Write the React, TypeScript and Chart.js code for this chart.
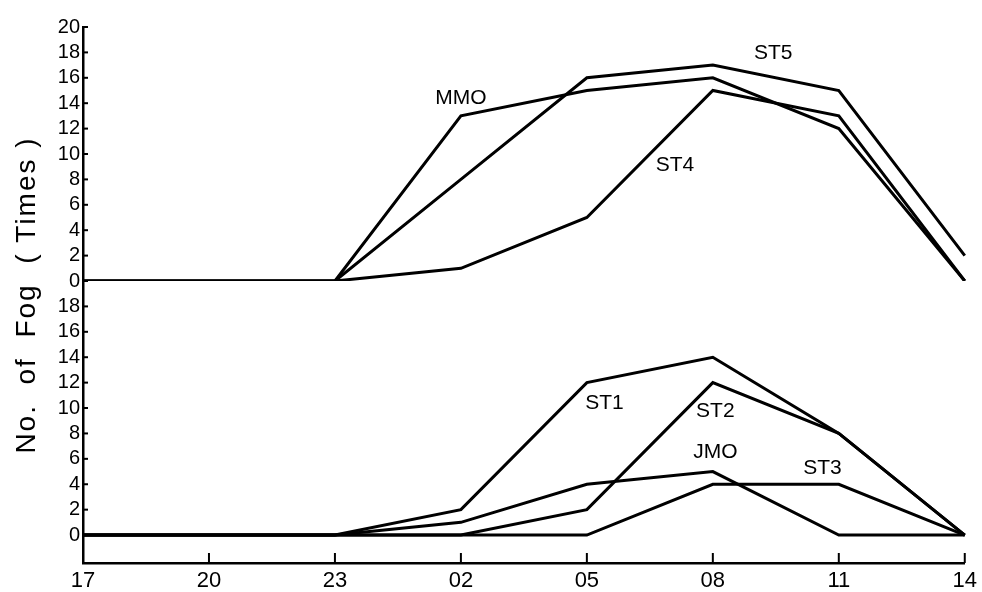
import React, { useEffect, useRef } from "react";
import { Chart, registerables } from "chart.js";

Chart.register(...registerables);

// ---- data ----
const hours = ["17", "20", "23", "02", "05", "08", "11", "14"];

// upper panel
const mmo = [0, 0, 0, 13, 15, 16, 12, 0];
const st5 = [0, 0, 0, 8, 16, 17, 15, 2];
const st4 = [0, 0, 0, 1, 5, 15, 13, 0];

// lower panel
const st1 = [0, 0, 0, 2, 12, 14, 8, 0];
const st2 = [0, 0, 0, 0, 2, 12, 8, 0];
const jmo = [0, 0, 0, 1, 4, 5, 0, 0];
const st3 = [0, 0, 0, 0, 0, 4, 4, 0];

const topTicks = [0, 2, 4, 6, 8, 10, 12, 14, 16, 18, 20];
const bottomTicks = [0, 2, 4, 6, 8, 10, 12, 14, 16, 18];

const yTitle = "No.  of  Fog  ( Times )";

// series name labels, anchored in data space (category index, value, panel)
const labelText = ["MMO", "ST5", "ST4", "ST1", "ST2", "JMO", "ST3"];
const labelIdx = [3.0, 5.48, 4.7, 4.14, 5.02, 5.02, 5.87];
const labelVal = [14.4, 17.95, 9.1, 10.4, 9.76, 6.54, 5.28];
const labelAxis = ["yTop", "yTop", "yTop", "yBot", "yBot", "yBot", "yBot"];

const INK = "#000";
const FONT = "'Liberation Sans', Arial, Helvetica, sans-serif";

const tickMarks = {
  id: "tickMarks",
  afterDraw(chart: any) {
    const ctx = chart.ctx;
    const area = chart.chartArea;
    ctx.save();
    ctx.strokeStyle = INK;
    ctx.lineWidth = 2;
    const xs = chart.scales.x;
    hours.forEach((_, i) => {
      const px = xs.getPixelForValue(i);
      ctx.beginPath();
      ctx.moveTo(px, area.bottom);
      ctx.lineTo(px, area.bottom - 10);
      ctx.stroke();
    });
    ["yTop", "yBot"].forEach((id) => {
      const s = chart.scales[id];
      s.ticks.forEach((t: any) => {
        const py = s.getPixelForValue(t.value);
        ctx.beginPath();
        ctx.moveTo(area.left, py);
        ctx.lineTo(area.left + 5, py);
        ctx.stroke();
      });
    });
    ctx.restore();
  },
};

const annotations = {
  id: "annotations",
  afterDraw(chart: any) {
    const ctx = chart.ctx;
    const area = chart.chartArea;
    ctx.save();
    ctx.fillStyle = INK;
    ctx.font = `21px ${FONT}`;
    ctx.textAlign = "center";
    ctx.textBaseline = "middle";
    labelText.forEach((t, i) => {
      const x = chart.scales.x.getPixelForValue(labelIdx[i]);
      const y = chart.scales[labelAxis[i]].getPixelForValue(labelVal[i]);
      ctx.fillText(t, x, y);
    });
    // y axis title spanning both panels
    ctx.translate(27, (area.top + area.bottom) / 2);
    ctx.rotate(-Math.PI / 2);
    ctx.font = `28px ${FONT}`;
    (ctx as any).letterSpacing = "2px";
    ctx.fillText(yTitle, 0, 0);
    ctx.restore();
  },
};

export default function App() {
  const ref = useRef<HTMLCanvasElement | null>(null);

  useEffect(() => {
    if (!ref.current) return;
    const line = (data: number[], axis: string) => ({
      data,
      yAxisID: axis,
      borderColor: INK,
      borderWidth: 3,
      pointRadius: 0,
      tension: 0,
      fill: false,
    });
    const yCommon = (weight: number) => ({
      type: "linear" as const,
      position: "left" as const,
      stack: "fog",
      stackWeight: weight,
      grid: { drawOnChartArea: false, drawTicks: false },
      border: { display: true, color: INK, width: 2.5 },
      ticks: {
        color: INK,
        padding: 3,
        autoSkip: false,
        font: { family: FONT, size: 20 },
      },
      afterFit: (s: any) => {
        s.width = 83;
      },
    });
    const chart = new Chart(ref.current, {
      type: "line",
      data: {
        labels: hours,
        datasets: [
          line(mmo, "yTop"),
          line(st5, "yTop"),
          line(st4, "yTop"),
          line(st1, "yBot"),
          line(st2, "yBot"),
          line(jmo, "yBot"),
          line(st3, "yBot"),
        ],
      },
      options: {
        responsive: false,
        animation: false,
        layout: { padding: { top: 27, right: 17, left: 0, bottom: 0 } },
        plugins: { legend: { display: false }, tooltip: { enabled: false } },
        scales: {
          x: {
            type: "category",
            offset: false,
            grid: { drawOnChartArea: false, drawTicks: false },
            border: { display: true, color: INK, width: 2.5 },
            ticks: {
              color: INK,
              padding: 5,
              maxRotation: 0,
              autoSkip: false,
              font: { family: FONT, size: 22 },
            },
            afterFit: (s: any) => {
              s.height = 29;
            },
          },
          yBot: {
            ...yCommon(282),
            min: -2.2,
            max: 20,
            afterBuildTicks: (s: any) => {
              s.ticks = bottomTicks.map((v) => ({ value: v }));
            },
          },
          yTop: {
            ...yCommon(254),
            min: 0,
            max: 20,
            afterBuildTicks: (s: any) => {
              s.ticks = topTicks.map((v) => ({ value: v }));
            },
          },
        } as any,
      },
      plugins: [tickMarks, annotations],
    });
    return () => chart.destroy();
  }, []);

  return (
    <div style={{ position: "absolute", left: 0, top: 0, width: 982, height: 592, background: "#fff" }}>
      <canvas ref={ref} width={982} height={592} style={{ width: 982, height: 592, display: "block" }} />
    </div>
  );
}
